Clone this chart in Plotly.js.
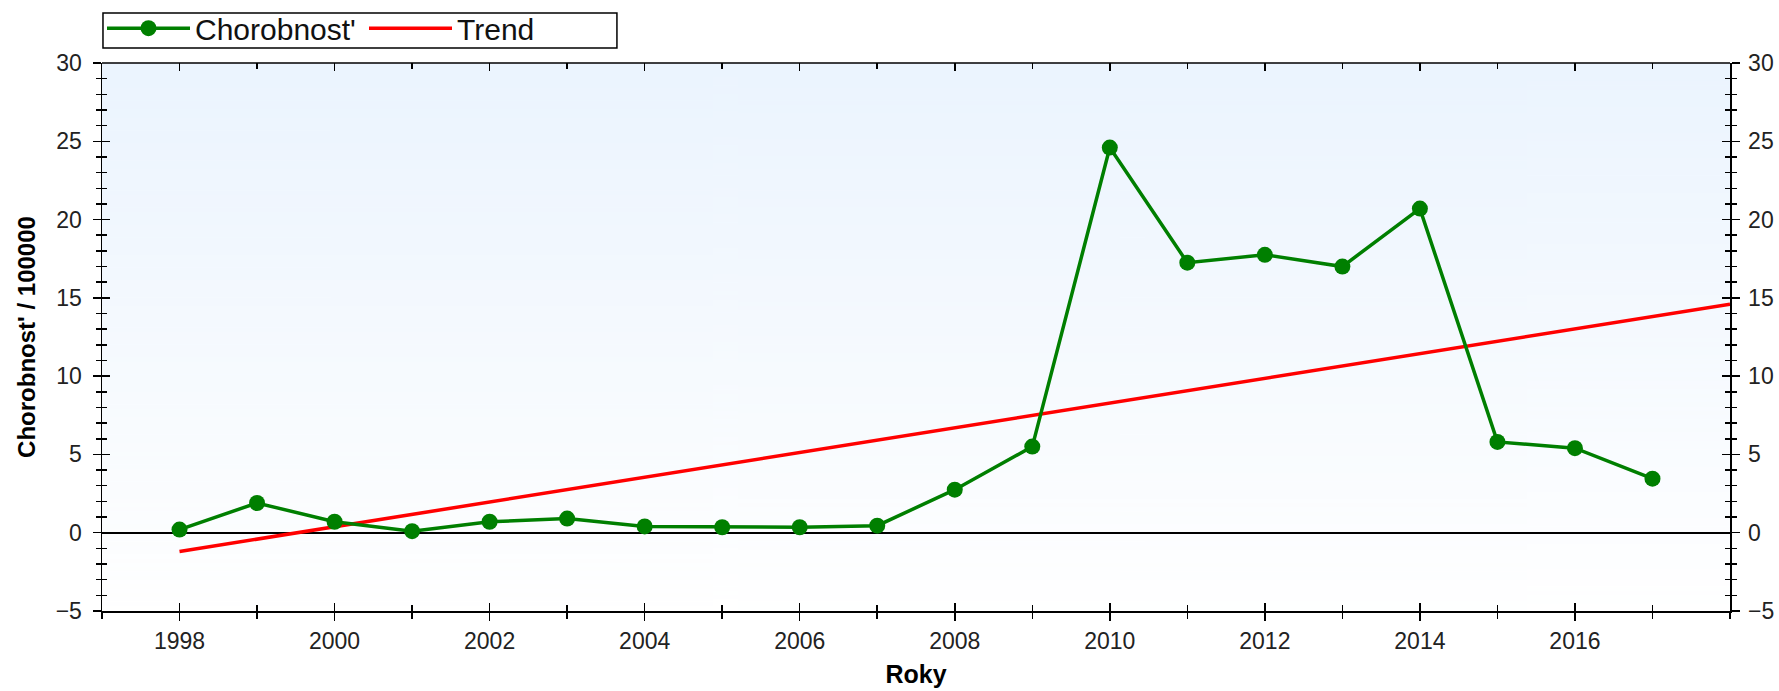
<!DOCTYPE html>
<html>
<head>
<meta charset="utf-8">
<script src="https://cdn.plot.ly/plotly-3.0.1.min.js"></script>
<style>
html,body{margin:0;padding:0;background:#fff;}
#chart{width:1779px;height:691px;}
</style>
</head>
<body>
<div id="chart"></div>
<script>
// ---- data ----
var years = [1998,1999,2000,2001,2002,2003,2004,2005,2006,2007,2008,2009,2010,2011,2012,2013,2014,2015,2016,2017];
var chorobnost = [0.2,1.9,0.7,0.1,0.7,0.9,0.4,0.35,0.35,0.45,2.75,5.5,24.6,17.25,17.75,17.0,20.7,5.8,5.4,3.45];
var trendYears = [1998, 2018];
var trendValues = [-1.2, 14.6];
var seriesNames = ["Chorobnost'", "Trend"];
var xTickVals = [1998,2000,2002,2004,2006,2008,2010,2012,2014,2016];
var xTickText = ["1998","2000","2002","2004","2006","2008","2010","2012","2014","2016"];
var xTitle = "Roky";
var yTitle = "Chorobnost' / 100000";

// gradient background image
var cv = document.createElement('canvas');
cv.width = 4; cv.height = 256;
var ctx = cv.getContext('2d');
var g = ctx.createLinearGradient(0,0,0,256);
g.addColorStop(0,'#ebf4fe');
g.addColorStop(1,'#ffffff');
ctx.fillStyle = g; ctx.fillRect(0,0,4,256);
var bgURL = cv.toDataURL('image/png');

var FONT = '"Liberation Sans", Arial, sans-serif';
var xr = [1997, 2018], yr = [-5, 30];

var traces = [
  {x: trendYears, y: trendValues, name: seriesNames[1], type: 'scatter', mode: 'lines',
   line: {color: '#ff0000', width: 3.5}, legendrank: 2, hoverinfo: 'skip'},
  {x: years, y: chorobnost, name: seriesNames[0], type: 'scatter', mode: 'lines+markers',
   line: {color: '#007f00', width: 3.5}, marker: {symbol: 'circle', size: 16, color: '#007f00'},
   legendrank: 1},
  {x: trendYears, y: trendValues, xaxis: 'x2', yaxis: 'y3', type: 'scatter', mode: 'lines',
   line: {color: 'rgba(0,0,0,0)', width: 0}, showlegend: false, hoverinfo: 'skip'},
  {x: trendYears, y: trendValues, yaxis: 'y2', type: 'scatter', mode: 'lines',
   line: {color: 'rgba(0,0,0,0)', width: 0}, showlegend: false, hoverinfo: 'skip'}
];

var tickFont = {family: FONT, size: 23, color: '#222'};
var layout = {
  width: 1779, height: 691,
  margin: {l: 102, r: 49, t: 63, b: 80, autoexpand: false},
  paper_bgcolor: '#ffffff',
  plot_bgcolor: 'rgba(0,0,0,0)',
  font: {family: FONT, color: '#000'},
  showlegend: true,
  legend: {orientation: 'h', x: 0.0, xanchor: 'left', y: 1.111, yanchor: 'top',
    bgcolor: 'rgba(0,0,0,0)', borderwidth: 0,
    font: {family: FONT, size: 30, color: '#111'},
    entrywidth: 164, entrywidthmode: 'pixels', itemwidth: 83, traceorder: 'normal'},
  images: [{source: bgURL, xref: 'paper', yref: 'paper', x: 0, y: 1, sizex: 1, sizey: 1,
    sizing: 'stretch', layer: 'below', xanchor: 'left', yanchor: 'top'}],
  xaxis: {range: xr, tickmode: 'array', tickvals: xTickVals, ticktext: xTickText,
    showgrid: false, zeroline: false,
    showline: true, linecolor: '#000', linewidth: 1.5,
    ticks: 'outside', ticklen: 8, tickwidth: 1.5, tickcolor: '#000',
    minor: {dtick: 1, tick0: 1998, ticks: 'outside', ticklen: 6, tickwidth: 1.5, tickcolor: '#000', showgrid: false},
    tickfont: tickFont, ticklabelstandoff: 1,
    title: {text: xTitle, font: {family: FONT, size: 25, color: '#000', weight: 'bold'}, standoff: 12}},
  xaxis2: {range: xr, overlaying: 'x', anchor: 'y', side: 'bottom', dtick: 2, tick0: 1998,
    showgrid: false, zeroline: false, showline: false, showticklabels: false,
    ticks: 'inside', ticklen: 8, tickwidth: 1.5, tickcolor: '#000', mirror: 'allticks',
    minor: {dtick: 1, tick0: 1998, ticks: 'inside', ticklen: 6, tickwidth: 1.5, tickcolor: '#000', showgrid: false}},
  yaxis: {range: yr, dtick: 5, tick0: 0, showgrid: false,
    zeroline: true, zerolinecolor: '#000', zerolinewidth: 2,
    showline: true, linecolor: '#000', linewidth: 1.5,
    ticks: 'outside', ticklen: 8, tickwidth: 1.5, tickcolor: '#000',
    minor: {dtick: 1, ticks: 'outside', ticklen: 5, tickwidth: 1.5, tickcolor: '#000', showgrid: false},
    tickfont: tickFont, ticklabelstandoff: 6,
    title: {text: yTitle, font: {family: FONT, size: 24, color: '#000', weight: 'bold'}, standoff: 13}},
  yaxis2: {range: yr, overlaying: 'y', side: 'right', anchor: 'x', dtick: 5, tick0: 0,
    showgrid: false, zeroline: false, showline: true, linecolor: '#000', linewidth: 1.5,
    ticks: 'outside', ticklen: 8, tickwidth: 1.5, tickcolor: '#000',
    minor: {dtick: 1, ticks: 'outside', ticklen: 5, tickwidth: 1.5, tickcolor: '#000', showgrid: false},
    tickfont: tickFont, ticklabelstandoff: 4},
  yaxis3: {range: yr, overlaying: 'y', side: 'left', anchor: 'x', dtick: 5, tick0: 0,
    showgrid: false, zeroline: false, showline: false, showticklabels: false,
    ticks: 'inside', ticklen: 8, tickwidth: 1.5, tickcolor: '#000', mirror: 'allticks',
    minor: {dtick: 1, ticks: 'inside', ticklen: 5, tickwidth: 1.5, tickcolor: '#000', showgrid: false}},
  shapes: [
    {type: 'line', xref: 'paper', yref: 'paper', x0: 0, x1: 1, y0: 1, y1: 1,
     line: {color: '#000', width: 1.5}},
    {type: 'rect', xref: 'paper', yref: 'paper', x0: 0.0006, x1: 0.3163, y0: 1.0274, y1: 1.0912,
     fillcolor: '#ffffff', line: {color: '#000', width: 1.5}, layer: 'below'}
  ]
};

Plotly.newPlot('chart', traces, layout, {displayModeBar: false, staticPlot: true});
</script>
</body>
</html>
